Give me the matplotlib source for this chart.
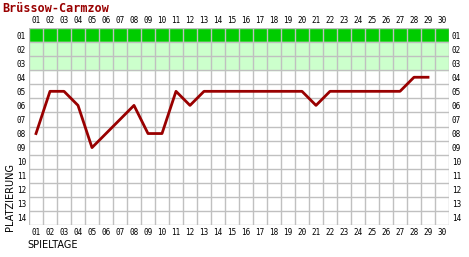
import numpy as np
import matplotlib.pyplot as plt

# Daten
spieltage = np.arange(1, 30)
platz = [8, 5, 5, 6, 9, 8, 7, 6, 8, 8, 5, 6, 5, 5, 5, 5, 5, 5, 5, 5,
         6, 5, 5, 5, 5, 5, 5, 4, 4]
n_spieltage = 30
n_plaetze = 14
tick_labels_x = ['%02d' % i for i in range(1, n_spieltage + 1)]
tick_labels_y = ['%02d' % i for i in range(1, n_plaetze + 1)]

fig = plt.figure(figsize=(4.69, 2.57), dpi=100)
ax = fig.add_axes([29 / 469, 1 - 225 / 257, 420 / 469, 197 / 257])

# Aufstiegs-/Relegationszonen
ax.axhspan(0.5, 1.5, color='#00cc00', zorder=0)
ax.axhspan(1.5, 3.5, color='#ccffcc', zorder=0)

ax.plot(spieltage, platz, color='#990000', linewidth=2, zorder=3)

ax.set_xlim(0.5, n_spieltage + 0.5)
ax.set_ylim(n_plaetze + 0.5, 0.5)

# Gitter auf Zellgrenzen
for x in np.arange(0.5, n_spieltage + 1, 1):
    ax.axvline(x, color='#c0c0c0', linewidth=1, zorder=1)
for y in np.arange(0.5, n_plaetze + 1, 1):
    ax.axhline(y, color='#c0c0c0', linewidth=1, zorder=1)

font = dict(family='DejaVu Sans Mono', fontsize=5.5)
ax.set_xticks(range(1, n_spieltage + 1))
ax.set_xticklabels(tick_labels_x, **font)
ax.set_yticks(range(1, n_plaetze + 1))
ax.set_yticklabels(tick_labels_y, **font)
ax.tick_params(length=0, pad=2, labeltop=True, labelright=True)
for s in ax.spines.values():
    s.set_visible(False)

fig.text(2 / 469, 1 - 8 / 257, 'Brüssow-Carmzow', color='#990000',
         fontsize=8.5, fontweight='bold', family='DejaVu Sans Mono', va='center')
fig.text(10 / 469, 1 - 197 / 257, 'PLATZIERUNG', rotation=90, fontsize=7,
         family='DejaVu Sans', ha='center', va='center')
fig.text(27 / 469, 1 - 245 / 257, 'SPIELTAGE', fontsize=7,
         family='DejaVu Sans', va='center')

fig.savefig('out.png', dpi=100)
